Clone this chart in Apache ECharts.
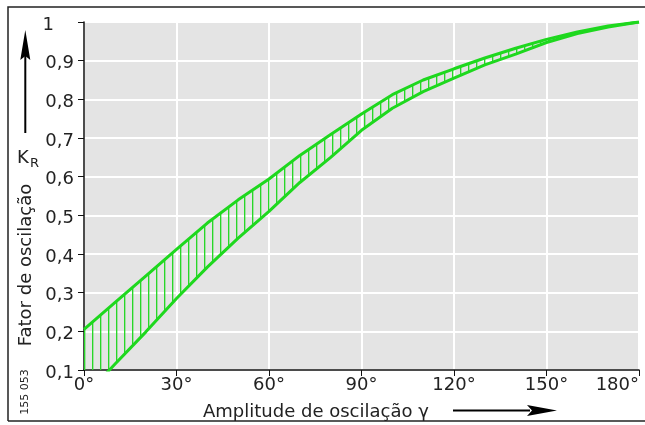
<!DOCTYPE html>
<html><head><meta charset="utf-8">
<script src="https://cdn.jsdelivr.net/npm/echarts@6/dist/echarts.min.js"></script>
<style>html,body{margin:0;padding:0;background:#fff}#c{width:645px;height:425px}</style>
</head><body><div id="c"></div>
<script>
// Data
const angles = [0,10,20,30,40,50,60,70,80,90,100,110,120,130,140,150,160,170,180];
const upperKR = [0.205,0.274,0.343,0.412,0.48,0.54,0.594,0.655,0.709,0.762,0.812,0.85,0.879,0.907,0.932,0.955,0.974,0.99,1.0];
const lowerKR = [0.03,0.115,0.198,0.285,0.366,0.441,0.51,0.585,0.65,0.72,0.777,0.82,0.855,0.889,0.917,0.947,0.97,0.987,1.0];
const xTicks = [0,30,60,90,120,150,180];
const yTickLabels = ['0,1','0,2','0,3','0,4','0,5','0,6','0,7','0,8','0,9','1'];

const FONT = 'DejaVu Sans';
const GREEN = '#1ed81e';
const TXT = '#222';

const upperPts = angles.map((a,i)=>[a, upperKR[i]]);
const lowerPts = angles.map((a,i)=>[a, lowerKR[i]]);

// hatch pattern tile
const tile = document.createElement('canvas');
tile.width = 8; tile.height = 8;
const tc = tile.getContext('2d');
tc.fillStyle = 'rgba(40,215,40,1)'; tc.fillRect(0,0,1,8);
tc.fillStyle = 'rgba(40,215,40,0.35)'; tc.fillRect(1,0,1,8);

const chart = echarts.init(document.getElementById('c'), null, {renderer:'canvas'});
chart.setOption({
  animation:false,
  backgroundColor:'#fff',
  grid:{left:84, right:6, top:22, bottom:55, show:true, backgroundColor:'#e4e4e4', borderColor:'#222', borderWidth:1},
  xAxis:{type:'value', min:0, max:180, interval:30,
    axisLine:{show:true, onZero:false, lineStyle:{color:'#111', width:1.5}},
    axisTick:{show:true, length:6, lineStyle:{color:'#111', width:1}},
    splitLine:{show:true, lineStyle:{color:'#fff', width:2}},
    axisLabel:{fontFamily:FONT, fontSize:18, color:TXT, margin:6, alignMaxLabel:'right',
      formatter:v=>{const i=xTicks.indexOf(v); return i>=0? xTicks[i]+'°':'';}}
  },
  yAxis:{type:'value', min:0.1, max:1, interval:0.1,
    axisLine:{show:true, onZero:false, lineStyle:{color:'#111', width:1.5}},
    axisTick:{show:true, length:6, lineStyle:{color:'#111', width:1}},
    splitLine:{show:true, lineStyle:{color:'#fff', width:2}},
    axisLabel:{fontFamily:FONT, fontSize:18, color:TXT, margin:10, padding:[6,0,0,0],
      formatter:v=>{const i=Math.round(v*10)-1; const s=yTickLabels[i]; return s==='1' ? '{one|1}' : s;},
      rich:{one:{fontFamily:FONT, fontSize:18, color:TXT, padding:[0,20,0,0]}}}
  },
  series:[
    {type:'custom', z:1, silent:true, data:[0],
      renderItem:(params, api)=>{
        const pts = upperPts.map(p=>api.coord(p)).concat(lowerPts.slice().reverse().map(p=>api.coord(p)));
        const cs = params.coordSys;
        return {type:'group', clipPath:{type:'rect', shape:{x:cs.x, y:cs.y, width:cs.width, height:cs.height}},
          children:[{type:'polygon', shape:{points:pts},
            style:{fill:{image:tile, repeat:'repeat', x:4, y:0}, stroke:null}}]};
      }},
    {type:'line', z:3, data:upperPts, showSymbol:false, symbol:'none', lineStyle:{color:GREEN, width:3}, clip:true},
    {type:'line', z:3, data:lowerPts, showSymbol:false, symbol:'none', lineStyle:{color:GREEN, width:3}, clip:true}
  ],
  graphic:[
    {type:'polyline', shape:{points:[[8,421],[8,7],[645,7]]}, style:{stroke:'#222', lineWidth:1.5, fill:null}},
    {type:'line', shape:{x1:8, y1:421, x2:645, y2:421}, style:{stroke:'#222', lineWidth:1.5}},
    // vertical arrow
    {type:'line', shape:{x1:25.3, y1:133, x2:25.3, y2:55}, style:{stroke:'#000', lineWidth:2}},
    {type:'polygon', shape:{points:[[25.3,30],[30.3,60],[25.3,56],[20.3,60]]}, style:{fill:'#000'}},
    // horizontal arrow
    {type:'line', shape:{x1:453, y1:410.5, x2:530, y2:410.5}, style:{stroke:'#000', lineWidth:2}},
    {type:'polygon', shape:{points:[[557,410.5],[527,405],[532,410.5],[527,416]]}, style:{fill:'#000'}},
    {type:'text', x:17, y:158, style:{text:'K', font:'18px "DejaVu Sans"', fill:TXT, verticalAlign:'middle', align:'left'}},
    {type:'text', x:30, y:164, style:{text:'R', font:'13px "DejaVu Sans"', fill:TXT, verticalAlign:'middle', align:'left'}},
    {type:'text', x:26, y:265, rotation:Math.PI/2, style:{text:'Fator de oscilação', font:'18px "DejaVu Sans"', fill:TXT, align:'center', verticalAlign:'middle'}},
    {type:'text', x:25, y:392, rotation:Math.PI/2, style:{text:'155 053', font:'11px "DejaVu Sans"', fill:TXT, align:'center', verticalAlign:'middle'}},
    {type:'text', x:203, y:412, style:{text:'Amplitude de oscilação γ', font:'18px "DejaVu Sans"', fill:TXT, align:'left', verticalAlign:'middle'}}
  ]
});
</script></body></html>
